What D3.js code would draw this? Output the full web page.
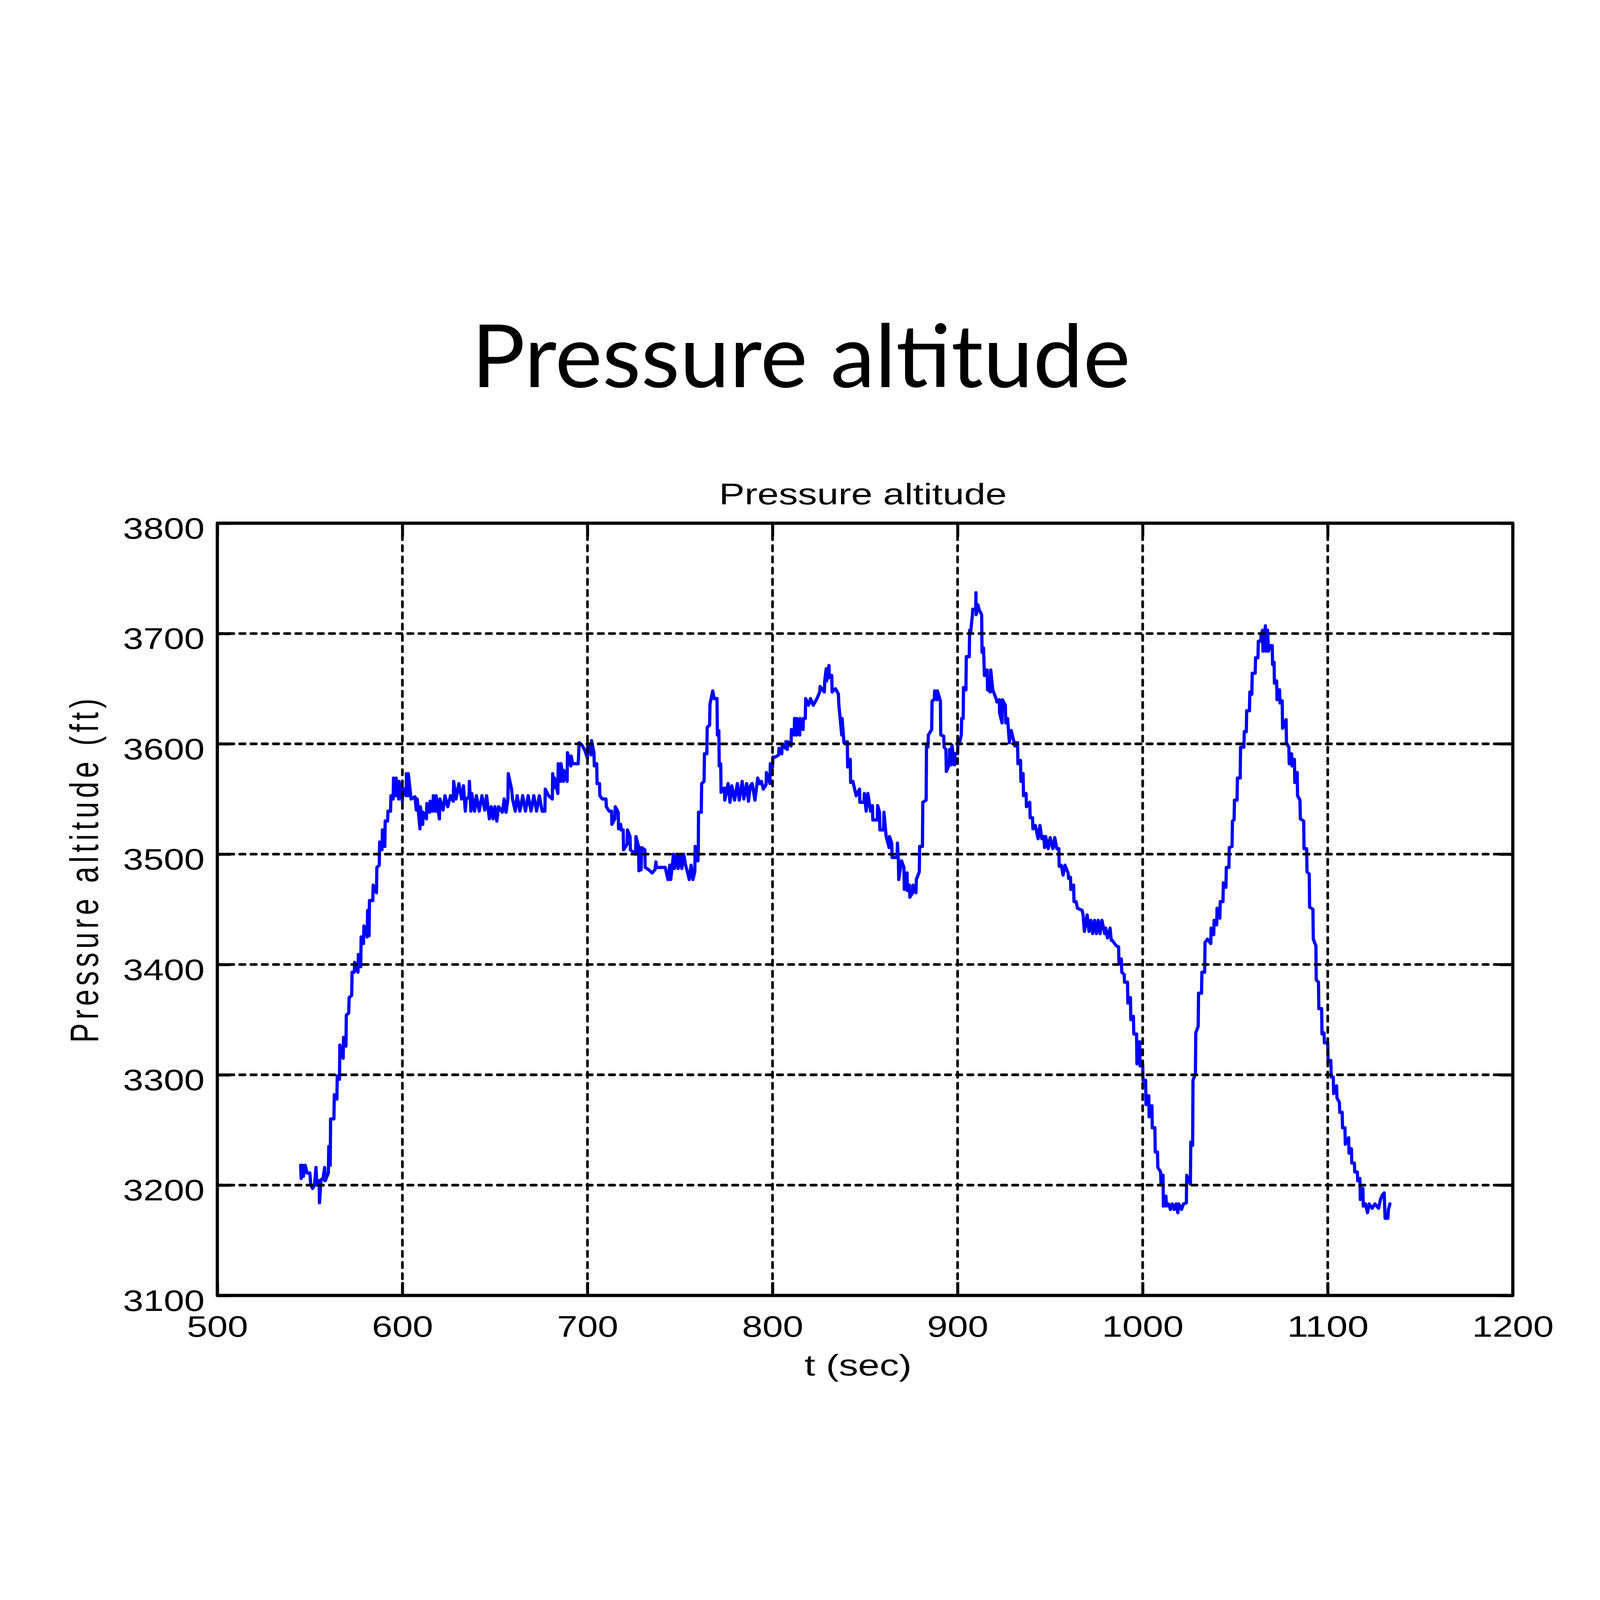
<!DOCTYPE html>
<html>
<head>
<meta charset="utf-8">
<script src="https://cdn.jsdelivr.net/npm/d3@7"></script>
<style>
  html, body { margin: 0; padding: 0; background: #ffffff; width: 100%; height: 100%; overflow: hidden; }
  svg { display: block; width: 100vw; height: 100vh; }
</style>
</head>
<body>
<script>
// ---------------- data ----------------
const pageTitle = "Pressure altitude";
const chartTitle = "Pressure altitude";
const xLabel = "t (sec)";
const yLabel = "Pressure altitude (ft)";
const xTicks = [500, 600, 700, 800, 900, 1000, 1100, 1200];
const yTicks = [3100, 3200, 3300, 3400, 3500, 3600, 3700, 3800];
const xDomain = [500, 1200];
const yDomain = [3100, 3800];

const timeSec = [
545.0,545.3,546.0,546.5,547.5,548.5,550.0,550.5,551.5,552.5,553.3,553.8,555.0,555.2,556.0,557.0,558.0,558.3,560.0,560.2,
561.0,561.2,563.0,563.2,564.6,564.8,566.0,566.2,568.0,568.2,569.5,569.7,571.0,571.2,572.6,572.8,574.0,574.2,576.0,576.2,
577.5,577.7,579.0,579.2,581.0,581.2,582.0,582.2,584.0,584.2,586.0,586.2,587.5,587.7,589.0,589.2,590.5,590.7,592.0,592.2,
593.6,593.8,595.0,595.2,596.4,596.6,598.0,598.2,600.0,600.2,602.0,602.2,603.0,603.2,604.7,606.8,607.5,608.0,609.5,609.7,
611.0,611.2,613.0,613.2,614.8,615.0,616.5,616.7,618.0,618.2,620.0,620.3,622.0,623.0,624.5,626.0,627.5,627.7,629.0,630.5,
632.0,633.0,634.0,634.5,636.0,636.2,637.0,637.5,639.0,640.0,641.5,643.0,644.5,645.5,647.0,648.0,649.0,650.0,651.0,652.0,
654.0,655.0,656.0,657.0,657.2,659.0,659.5,661.0,662.0,663.5,665.0,666.5,668.0,669.5,671.0,672.5,674.0,675.5,677.0,677.2,
679.0,681.0,681.2,682.0,682.2,684.0,684.2,685.5,685.7,687.0,687.2,689.0,689.2,691.0,691.2,692.0,695.0,695.5,697.0,698.6,
700.0,700.2,702.0,702.2,703.5,703.7,705.0,705.2,706.5,706.7,708.0,710.0,710.2,711.7,713.0,713.2,714.8,715.0,716.6,716.8,
718.0,718.2,719.3,719.5,721.4,721.6,723.0,723.2,726.0,726.2,727.6,727.8,729.0,729.2,731.0,731.2,733.0,735.0,736.5,737.0,
737.2,740.0,742.0,743.5,744.5,745.0,746.5,747.0,748.5,749.0,750.5,751.0,752.0,753.0,754.0,755.0,756.0,757.0,758.0,758.2,
759.7,759.9,760.0,761.5,761.7,763.0,763.2,764.5,764.7,766.0,766.2,767.7,768.5,770.0,770.2,771.0,771.2,772.0,772.2,774.0,
774.2,776.0,777.0,778.0,779.5,781.0,782.0,783.6,784.5,786.0,787.0,788.0,789.0,790.5,792.0,793.0,794.0,795.0,796.5,796.7,
798.6,798.8,800.0,800.2,801.5,803.3,803.5,805.0,805.2,807.0,807.2,808.0,808.2,810.0,810.2,811.7,811.9,813.0,813.2,814.7,
814.9,816.5,816.7,817.7,817.9,819.5,820.5,822.0,824.0,825.5,825.7,828.0,828.2,829.0,829.2,830.5,830.7,832.0,832.2,834.0,
835.6,835.8,837.4,837.6,838.6,840.4,840.6,842.0,842.2,843.4,845.2,847.0,847.2,849.4,849.6,850.6,851.5,853.0,854.0,854.2,
856.6,856.8,857.8,858.0,860.0,860.2,861.4,863.0,863.2,864.4,864.6,867.3,867.5,868.0,868.2,869.7,871.0,871.2,872.7,872.9,
874.0,874.2,875.7,875.9,877.5,877.7,879.3,879.5,881.0,881.2,883.0,883.2,884.0,884.2,886.0,886.2,887.4,887.6,888.9,889.1,
890.7,890.9,892.5,892.7,893.7,893.9,895.5,895.7,896.7,896.9,898.4,898.6,900.0,900.2,901.0,902.0,902.2,903.0,903.2,904.5,
904.7,906.3,906.5,907.0,908.0,908.2,909.8,909.9,910.0,911.0,911.5,913.0,913.2,914.0,914.5,915.0,916.0,916.2,917.7,917.9,
919.0,921.0,921.2,922.5,922.7,924.0,924.2,925.8,926.0,927.0,928.0,928.5,929.0,931.0,931.2,932.4,932.6,934.0,934.2,935.4,
935.6,937.0,937.2,939.0,939.2,940.5,940.7,942.0,943.5,944.5,945.5,946.6,947.0,947.6,949.0,950.0,951.5,952.5,953.6,954.7,
954.9,956.0,957.0,958.0,959.7,960.0,961.0,961.2,962.7,962.9,964.0,964.8,967.3,967.8,968.5,970.0,971.0,972.0,973.0,974.0,
975.0,976.0,977.0,978.0,979.5,980.0,981.0,982.4,983.0,983.5,985.7,987.0,987.2,988.5,988.7,990.0,990.2,991.8,992.0,993.4,
993.6,995.0,995.2,996.7,996.9,998.4,998.6,1000.0,1000.2,1001.6,1001.8,1003.3,1003.5,1005.0,1005.2,1006.6,1006.8,1008.0,1008.2,1009.7,
1009.9,1011.0,1011.2,1012.6,1012.8,1014.0,1015.0,1016.0,1017.0,1018.0,1019.0,1019.5,1021.0,1022.0,1023.6,1023.8,1025.8,1026.0,1027.0,1027.2,
1028.5,1028.7,1030.0,1030.2,1031.8,1032.0,1033.5,1033.7,1035.0,1036.8,1037.0,1038.4,1038.6,1040.0,1040.2,1041.7,1041.9,1043.4,1043.6,1045.0,
1045.2,1046.6,1046.8,1048.3,1048.5,1049.4,1049.6,1051.0,1051.2,1052.7,1052.9,1054.7,1054.9,1056.0,1056.2,1057.7,1057.9,1059.0,1059.2,1060.8,
1061.0,1062.3,1062.5,1063.8,1064.0,1064.8,1065.0,1066.0,1066.3,1066.6,1067.5,1068.0,1069.0,1070.0,1070.2,1071.0,1071.2,1072.4,1072.6,1074.0,
1074.2,1075.4,1075.6,1077.5,1077.7,1079.0,1079.2,1080.5,1080.7,1082.0,1082.2,1083.5,1083.7,1085.0,1085.2,1087.0,1087.2,1088.6,1088.8,1090.0,
1090.2,1092.0,1092.2,1093.6,1093.8,1095.0,1095.2,1096.7,1096.9,1098.0,1098.2,1100.0,1100.2,1101.7,1101.9,1103.0,1103.2,1104.8,1105.0,1106.3,
1106.5,1107.8,1108.0,1109.3,1109.5,1111.3,1111.5,1112.8,1113.0,1114.4,1114.6,1116.0,1116.2,1117.4,1117.6,1119.0,1119.2,1120.4,1121.5,1122.4,
1124.0,1125.5,1127.5,1128.5,1129.5,1130.5,1131.0,1132.5,1132.8,1133.6
];

const altitudeFt = [
3218,3206,3218,3208,3218,3211,3211,3200,3197,3200,3216,3200,3204,3184,3205,3205,3216,3204,3211,3235,
3218,3260,3260,3282,3278,3299,3296,3327,3315,3334,3326,3354,3356,3370,3372,3393,3393,3402,3393,3409,
3398,3425,3419,3435,3425,3449,3426,3458,3458,3472,3465,3488,3490,3511,3504,3522,3507,3530,3530,3539,
3539,3553,3550,3569,3553,3569,3550,3566,3548,3560,3553,3573,3553,3573,3550,3552,3540,3550,3523,3543,
3527,3538,3532,3546,3538,3548,3539,3553,3539,3553,3532,3550,3540,3553,3543,3553,3548,3566,3550,3564,
3550,3562,3539,3550,3552,3566,3539,3555,3539,3553,3539,3553,3540,3553,3532,3543,3532,3543,3530,3543,
3538,3550,3538,3550,3573,3559,3550,3539,3553,3539,3553,3539,3553,3539,3553,3539,3553,3539,3539,3559,
3553,3550,3573,3560,3569,3555,3582,3566,3582,3566,3576,3566,3592,3580,3589,3582,3582,3601,3599,3594,
3587,3599,3590,3603,3592,3580,3582,3564,3564,3553,3550,3550,3543,3539,3539,3527,3532,3543,3538,3523,
3527,3522,3522,3504,3509,3522,3516,3504,3500,3516,3507,3485,3486,3506,3504,3488,3486,3483,3486,3493,
3488,3488,3488,3477,3490,3477,3500,3487,3500,3487,3500,3487,3500,3490,3484,3477,3490,3477,3484,3507,
3494,3507,3538,3538,3564,3566,3591,3591,3615,3617,3636,3648,3641,3641,3608,3612,3580,3582,3556,3560,
3549,3564,3547,3562,3549,3564,3549,3566,3550,3564,3548,3562,3564,3549,3569,3564,3566,3559,3563,3574,
3564,3582,3579,3588,3588,3590,3596,3591,3599,3596,3602,3595,3602,3598,3613,3608,3623,3608,3623,3608,
3623,3613,3623,3623,3641,3635,3641,3635,3641,3647,3652,3647,3657,3668,3657,3671,3660,3662,3647,3650,
3645,3636,3608,3623,3601,3602,3579,3586,3565,3566,3553,3559,3547,3547,3555,3539,3555,3539,3544,3531,
3531,3544,3538,3522,3522,3538,3516,3506,3516,3510,3497,3497,3510,3494,3477,3494,3488,3468,3483,3467,
3472,3461,3465,3472,3465,3477,3484,3507,3507,3547,3549,3599,3597,3608,3613,3639,3640,3648,3640,3648,
3639,3608,3607,3597,3595,3575,3581,3595,3581,3599,3581,3591,3591,3602,3601,3608,3623,3623,3651,3649,
3679,3679,3703,3700,3717,3722,3722,3737,3717,3726,3722,3717,3683,3687,3662,3662,3667,3649,3647,3667,
3649,3640,3638,3640,3628,3619,3640,3635,3619,3623,3601,3612,3612,3598,3601,3601,3582,3585,3566,3573,
3553,3555,3543,3547,3533,3533,3523,3526,3514,3526,3514,3516,3506,3516,3505,3515,3505,3515,3505,3505,
3489,3490,3481,3490,3483,3478,3479,3468,3472,3457,3457,3451,3449,3445,3430,3445,3430,3440,3428,3440,
3428,3440,3428,3440,3428,3433,3424,3433,3422,3422,3417,3416,3402,3405,3393,3391,3384,3384,3365,3370,
3350,3353,3337,3337,3310,3330,3308,3310,3295,3295,3273,3281,3262,3272,3252,3252,3230,3230,3216,3212,
3201,3209,3181,3190,3181,3183,3178,3183,3178,3183,3175,3183,3178,3183,3184,3209,3201,3239,3236,3295,
3301,3338,3344,3374,3374,3393,3393,3420,3423,3419,3433,3427,3440,3436,3451,3442,3457,3457,3474,3470,
3488,3488,3506,3507,3530,3531,3549,3549,3569,3569,3597,3597,3611,3611,3630,3630,3647,3645,3664,3664,
3678,3678,3693,3693,3699,3703,3684,3700,3707,3684,3703,3684,3689,3689,3672,3674,3655,3657,3640,3649,
3637,3639,3614,3622,3601,3597,3582,3591,3580,3586,3565,3574,3553,3549,3532,3530,3505,3505,3484,3482,
3452,3450,3423,3417,3386,3384,3360,3360,3337,3338,3329,3329,3312,3313,3298,3298,3283,3290,3279,3275,
3266,3266,3252,3252,3237,3243,3229,3233,3220,3220,3212,3212,3204,3206,3187,3197,3181,3183,3175,3183,
3179,3183,3179,3187,3191,3193,3170,3170,3178,3183
];

// ---------------- drawing ----------------
const W = 6000, H = 4500;
const plot = { left: 815, right: 5673, top: 1212, bottom: 4108 };
const textFont = "'Liberation Sans', Arial, Helvetica, sans-serif";
const digitW = 76.5;   // stretched glyph width per digit

const svg = d3.select("body").append("svg")
  .attr("viewBox", `0 0 ${W} ${H}`)
  .attr("preserveAspectRatio", "xMidYMid meet");

svg.append("rect").attr("width", W).attr("height", H).attr("fill", "#ffffff");

const x = d3.scaleLinear().domain(xDomain).range([plot.left, plot.right]);
const y = d3.scaleLinear().domain(yDomain).range([plot.bottom, plot.top]);

// page title
svg.append("text")
  .attr("x", 1768).attr("y", 702)
  .attr("font-family", "Lato, 'Open Sans', sans-serif")
  .attr("font-size", 328)
  .attr("textLength", 2471)
  .attr("lengthAdjust", "spacingAndGlyphs")
  .attr("fill", "#000")
  .text(pageTitle);

// chart title
svg.append("text")
  .attr("x", 3236).attr("y", 1141)
  .attr("text-anchor", "middle")
  .attr("font-family", textFont)
  .attr("font-size", 112)
  .attr("textLength", 1079)
  .attr("lengthAdjust", "spacingAndGlyphs")
  .attr("fill", "#000")
  .text(chartTitle);

// data line
const line = d3.line()
  .x((d, i) => x(timeSec[i]))
  .y((d, i) => y(altitudeFt[i]));

svg.append("path")
  .datum(altitudeFt)
  .attr("d", line)
  .attr("fill", "none")
  .attr("stroke", "#0000ff")
  .attr("stroke-width", 12)
  .attr("stroke-linejoin", "round")
  .attr("stroke-linecap", "round");

// grid (drawn above the line, like the original)
const grid = svg.append("g")
  .attr("stroke", "#000")
  .attr("stroke-width", 10)
  .attr("stroke-dasharray", "20,22")
  .attr("stroke-linecap", "round");

grid.selectAll("line.vx")
  .data(xTicks.filter(t => t > xDomain[0] && t < xDomain[1]))
  .join("line").attr("class", "vx")
  .attr("x1", d => x(d)).attr("x2", d => x(d))
  .attr("y1", plot.top).attr("y2", plot.bottom);

grid.selectAll("line.hy")
  .data(yTicks.filter(t => t > yDomain[0] && t < yDomain[1]))
  .join("line").attr("class", "hy")
  .attr("y1", d => y(d)).attr("y2", d => y(d))
  .attr("x1", plot.left).attr("x2", plot.right);

// axes with inward ticks
const tickLen = 50;
function styleAxis(g) {
  g.select(".domain").remove();
  g.selectAll(".tick line").attr("stroke", "#000").attr("stroke-width", 11);
  g.selectAll(".tick text")
    .attr("fill", "#000")
    .attr("font-family", textFont)
    .attr("font-size", 110)
    .attr("lengthAdjust", "spacingAndGlyphs")
    .attr("textLength", function() { return this.textContent.length * digitW; });
}

svg.append("g")
  .attr("transform", `translate(0,${plot.bottom})`)
  .call(d3.axisBottom(x).tickValues(xTicks).tickFormat(d3.format("d"))
        .tickSize(-tickLen).tickPadding(76))
  .call(styleAxis);

svg.append("g")
  .attr("transform", `translate(${plot.left},0)`)
  .call(d3.axisLeft(y).tickValues(yTicks).tickFormat(d3.format("d"))
        .tickSize(-tickLen).tickPadding(48))
  .call(styleAxis)
  .call(g => g.selectAll(".tick text").attr("dy", "0.52em"));

svg.append("g")
  .attr("transform", `translate(0,${plot.top})`)
  .call(d3.axisTop(x).tickValues(xTicks).tickFormat("").tickSize(-tickLen))
  .call(styleAxis);

svg.append("g")
  .attr("transform", `translate(${plot.right},0)`)
  .call(d3.axisRight(y).tickValues(yTicks).tickFormat("").tickSize(-tickLen))
  .call(styleAxis);

// border box
svg.append("rect")
  .attr("x", plot.left).attr("y", plot.top)
  .attr("width", plot.right - plot.left).attr("height", plot.bottom - plot.top)
  .attr("fill", "none").attr("stroke", "#000").attr("stroke-width", 12)
  .attr("stroke-linejoin", "round");

// x label
svg.append("text")
  .attr("x", 3218).attr("y", 4407)
  .attr("text-anchor", "middle")
  .attr("font-family", textFont)
  .attr("font-size", 110)
  .attr("textLength", 402)
  .attr("lengthAdjust", "spacingAndGlyphs")
  .attr("fill", "#000")
  .text(xLabel);

// y label (rotated, widened across its height)
svg.append("text")
  .attr("transform", "translate(368,2515) scale(1.35,1) rotate(-90)")
  .attr("text-anchor", "middle")
  .attr("font-family", textFont)
  .attr("font-size", 110)
  .attr("textLength", 1291)
  .attr("lengthAdjust", "spacing")
  .attr("fill", "#000")
  .text(yLabel);
</script>
</body>
</html>
